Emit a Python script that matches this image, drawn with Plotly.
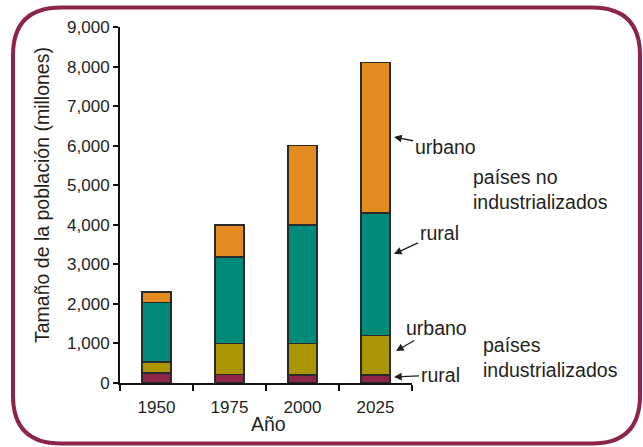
import plotly.graph_objects as go

# population (millions) by year, stacked segments
years = ["1950", "1975", "2000", "2025"]
rural_ind = [250, 210, 200, 200]        # países industrializados, rural
urban_ind = [280, 790, 800, 1000]       # países industrializados, urbano
rural_noind = [1500, 2180, 3000, 3100]  # países no industrializados, rural
urban_noind = [265, 820, 2000, 3800]    # países no industrializados, urbano

colors = ["#8c2546", "#ab9502", "#008a7a", "#e38b1e"]
series = [rural_ind, urban_ind, rural_noind, urban_noind]

W, H = 643, 447
L, R, T, B = 120, 231, 27, 64
PW, PH = W - L - R, H - T - B


def px(x):
    return (x - L) / PW


def py(y):
    return (H - B - y) / PH


TXT = "#231f20"
FONT = "Liberation Sans, Arial, Helvetica, sans-serif"

fig = go.Figure()
for vals, c in zip(series, colors):
    fig.add_trace(go.Bar(
        x=years, y=vals,
        marker=dict(color=c, line=dict(color="#2a2a2a", width=1.5)),
        showlegend=False,
    ))

# rounded frame around the whole chart
x0, x1, y0, y1 = px(13), px(640), py(443.5), py(7.5)
rx, ry = 48 / PW, 48 / PH
path = (f"M {x0+rx},{y1} L {x1-rx},{y1} Q {x1},{y1} {x1},{y1-ry} "
        f"L {x1},{y0+ry} Q {x1},{y0} {x1-rx},{y0} "
        f"L {x0+rx},{y0} Q {x0},{y0} {x0},{y0+ry} "
        f"L {x0},{y1-ry} Q {x0},{y1} {x0+rx},{y1} Z")
fig.add_shape(type="path", path=path, xref="paper", yref="paper",
              line=dict(color="#8c2546", width=4))

annos = []
# arrows: (text, head x, head y, text center x, text center y) in pixels
arrows = [
    ("urbano", 394, 137, 445, 147),
    ("rural", 394, 254, 439, 233),
    ("urbano", 396, 351, 436, 328),
    ("rural", 394, 377, 440, 375),
]
for txt, hx, hy, tx, ty in arrows:
    annos.append(dict(
        text=txt, xref="paper", yref="paper", x=px(hx), y=py(hy),
        ax=tx - hx, ay=ty - hy, showarrow=True,
        arrowhead=2, arrowsize=1.1, arrowwidth=1.4, arrowcolor=TXT,
        font=dict(size=19.5, color=TXT, family=FONT)))

annos.append(dict(text="países no<br>industrializados", xref="paper", yref="paper",
                  x=px(471), y=py(189), xanchor="left", yanchor="middle", align="left",
                  showarrow=False, font=dict(size=19.5, color=TXT, family=FONT)))
annos.append(dict(text="países<br>industrializados", xref="paper", yref="paper",
                  x=px(481), y=py(357), xanchor="left", yanchor="middle", align="left",
                  showarrow=False, font=dict(size=19.5, color=TXT, family=FONT)))
annos.append(dict(text="Tamaño de la población (millones)", xref="paper", yref="paper",
                  x=px(42), y=py(195), xanchor="center", yanchor="middle",
                  textangle=-90, showarrow=False,
                  font=dict(size=19.5, color=TXT, family=FONT)))
annos.append(dict(text="Año", xref="paper", yref="paper",
                  x=px(268), y=py(424), xanchor="center", yanchor="middle",
                  showarrow=False, font=dict(size=19.5, color=TXT, family=FONT)))

fig.update_layout(
    barmode="stack",
    bargap=0.6,
    width=W, height=H,
    margin=dict(l=L, r=R, t=T, b=B),
    paper_bgcolor="white",
    plot_bgcolor="white",
    font=dict(family=FONT, color=TXT),
    annotations=annos,
    xaxis=dict(showline=True, linecolor="#111", linewidth=2, ticks="outside",
               tickson="boundaries", ticklen=6, tickwidth=1.5, tickcolor="#111",
               ticklabelstandoff=8,
               tickfont=dict(size=17, color=TXT), showgrid=False),
    yaxis=dict(range=[0, 9000], dtick=1000, tickformat=",", showline=True,
               linecolor="#111", linewidth=2, ticks="outside", ticklen=5,
               tickwidth=1.5, tickcolor="#111", tickfont=dict(size=17, color=TXT),
               showgrid=False, zeroline=False),
)

# the page keeps the browser's default 8px body margin otherwise
fig.write_html("out.html", config={"displayModeBar": False},
               post_script="document.body.style.margin='0';")
